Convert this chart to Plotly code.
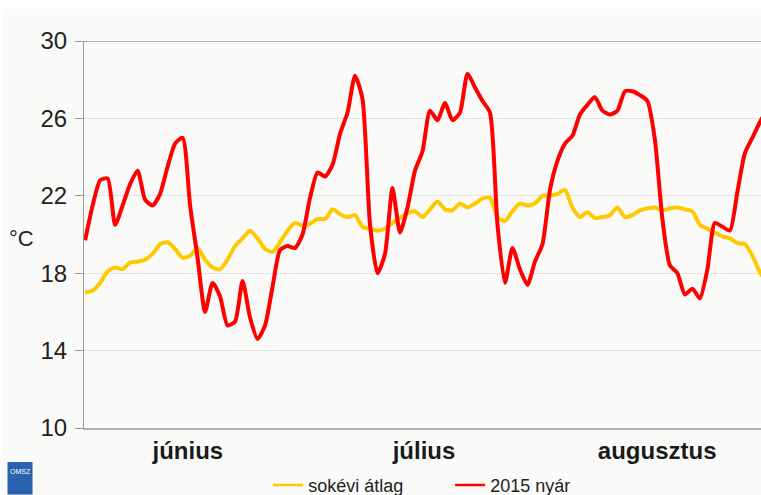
import plotly.graph_objects as go

# day index 0 = June 1 (92 days, June-August)
days = list(range(92))

avg_temp = [17.0, 17.1, 17.5, 18.1, 18.3, 18.2, 18.55, 18.6, 18.7, 19.0,
            19.5, 19.6, 19.25, 18.8, 18.9, 19.3, 18.7, 18.3, 18.2, 18.7,
            19.4, 19.8, 20.2, 19.8, 19.25, 19.1, 19.6, 20.2, 20.6, 20.45,
            20.55, 20.8, 20.8, 21.3, 21.05, 20.9, 21.0, 20.4, 20.3, 20.2,
            20.3, 20.6, 20.85, 21.1, 21.2, 20.9, 21.3, 21.7, 21.3, 21.25,
            21.6, 21.4, 21.6, 21.85, 21.9, 20.9, 20.7, 21.2, 21.6, 21.5,
            21.6, 22.0, 22.0, 22.1, 22.3, 21.4, 20.9, 21.15, 20.85, 20.9,
            21.0, 21.4, 20.9, 21.0, 21.25, 21.35, 21.4, 21.25, 21.35, 21.4,
            21.3, 21.2, 20.5, 20.3, 20.1, 19.9, 19.8, 19.55, 19.5, 18.9,
            18.05, 17.5]

temp_2015 = [19.7, 21.5, 22.8, 22.9, 20.5, 21.5, 22.6, 23.3, 21.8, 21.5,
             22.1, 23.5, 24.7, 25.0, 21.5, 18.8, 16.0, 17.5, 16.8, 15.3,
             15.5, 17.6, 15.7, 14.6, 15.3, 17.3, 19.2, 19.4, 19.3, 20.0,
             21.9, 23.2, 23.0, 23.6, 25.2, 26.3, 28.2, 27.0, 20.5, 18.0,
             19.0, 22.4, 20.1, 21.4, 23.3, 24.3, 26.4, 25.9, 26.8, 25.9,
             26.3, 28.3, 27.6, 26.9, 26.3, 20.5, 17.5, 19.3, 18.2, 17.4,
             18.6, 19.5, 22.3, 23.8, 24.7, 25.1, 26.2, 26.7, 27.1, 26.4,
             26.2, 26.4, 27.4, 27.4, 27.2, 26.9, 24.9, 20.8, 18.4, 18.0,
             16.9, 17.2, 16.7, 18.2, 20.6, 20.4, 20.2, 22.2, 24.2, 25.0,
             25.8, 26.5]

series_names = ["sokévi átlag", "2015 nyár"]
series_colors = ["#ffc800", "#ff0000"]

month_labels = ["június", "július", "augusztus"]
month_pos = [13.7, 45.2, 76.3]
y_ticks = [10, 14, 18, 22, 26, 30]

font_family = "Liberation Sans, Arial, sans-serif"
bg = "#fafbf9"

fig = go.Figure()
for name, color, vals in zip(series_names, series_colors, [avg_temp, temp_2015]):
    fig.add_trace(go.Scatter(
        x=days, y=vals, mode="lines", name=name, showlegend=False,
        line=dict(color=color, width=4, shape="spline", smoothing=0.6),
    ))
# legend entries with thinner sample lines
for name, color in zip(series_names, series_colors):
    fig.add_trace(go.Scatter(
        x=[None], y=[None], mode="lines", name=name, showlegend=True,
        line=dict(color=color, width=2.5),
    ))

fig.update_layout(
    width=761, height=495,
    margin=dict(l=84, r=0, t=41, b=67, autoexpand=False),
    paper_bgcolor=bg, plot_bgcolor=bg,
    font=dict(family=font_family, color="#222222"),
    showlegend=True,
    legend=dict(orientation="h", x=0.272, xanchor="left", y=-0.1, yanchor="top",
                font=dict(size=18, color="#222222"), bgcolor="rgba(0,0,0,0)",
                itemwidth=30, entrywidth=137, tracegroupgap=0),
    xaxis=dict(range=[-0.15, 90.15], tickvals=month_pos, ticktext=month_labels,
               ticks="", showgrid=False, zeroline=False, automargin=False,
               showline=True, linecolor="#b0b0b0", linewidth=2,
               tickfont=dict(size=24, weight="bold", color="#1a1a1a")),
    yaxis=dict(range=[10, 30], tickvals=y_ticks, ticks="outside", ticklen=8,
               tickcolor="#9a9a9a", tickwidth=1, automargin=False,
               ticklabelstandoff=3,
               showgrid=True, gridcolor="#e4e4e4", gridwidth=1, zeroline=False,
               showline=True, linecolor="#9a9a9a", linewidth=1,
               tickfont=dict(size=24, color="#222222")),
    shapes=[
        dict(type="rect", xref="paper", yref="paper", layer="below",
             x0=-0.13, x1=1.01, y0=1.0827, y1=1.12,
             fillcolor="#ffffff", line=dict(width=0)),
        dict(type="rect", xref="paper", yref="paper", layer="below",
             x0=-0.13, x1=-0.1196, y0=-0.2, y1=1.12,
             fillcolor="#ffffff", line=dict(width=0)),
        dict(type="line", xref="paper", yref="y", x0=0, x1=1, y0=30, y1=30,
             line=dict(color="#9a9a9a", width=1.5)),
        dict(type="rect", xref="paper", yref="paper",
             x0=-0.113, x1=-0.076, y0=-0.172, y1=-0.088,
             fillcolor="#2a62b0", line=dict(width=0)),
    ],
    annotations=[
        dict(text="°C", xref="paper", yref="paper", x=-0.0916, y=0.49,
             xanchor="center", yanchor="middle", showarrow=False,
             font=dict(size=22, color="#222222")),
        dict(text="OMSZ", xref="paper", yref="paper", x=-0.0945, y=-0.098,
             xanchor="center", yanchor="top", showarrow=False,
             font=dict(size=7, color="#ffffff")),
    ],
)

fig.write_html("out.html", config={"displayModeBar": False},
               post_script="document.body.style.margin='0';document.body.style.overflow='hidden';")
